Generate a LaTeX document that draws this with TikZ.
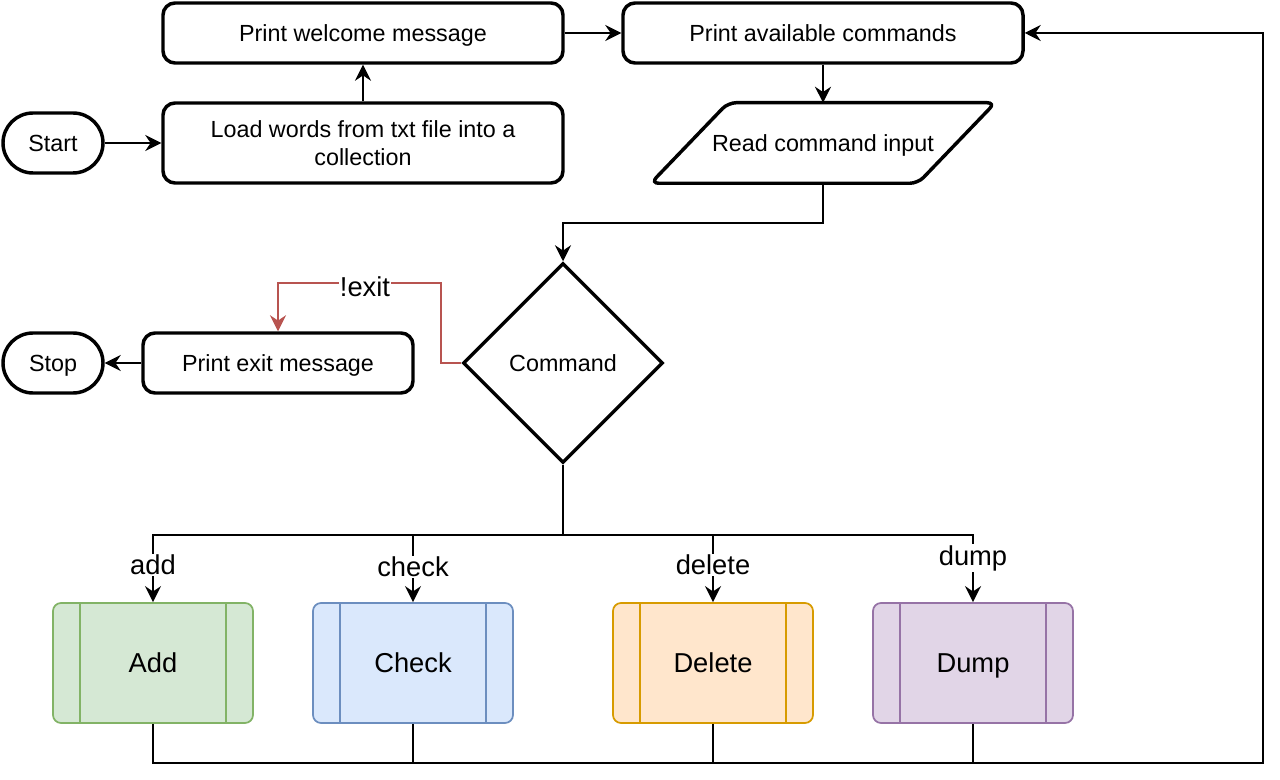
\documentclass[tikz,border=0pt]{standalone}
\usepackage{fontspec}
\setmainfont{Liberation Sans}
\usetikzlibrary{arrows.meta,shapes.geometric}

\definecolor{fillg}{HTML}{D5E8D4}\definecolor{lineg}{HTML}{82B366}
\definecolor{fillb}{HTML}{DAE8FC}\definecolor{lineb}{HTML}{6C8EBF}
\definecolor{fillo}{HTML}{FFE6CC}\definecolor{lineo}{HTML}{D79B00}
\definecolor{fillp}{HTML}{E1D5E7}\definecolor{linep}{HTML}{9673A6}
\definecolor{rdeca}{HTML}{B85450}

\tikzset{
	okvir/.style={draw, line width=2.6pt, rounded corners=9pt, minimum width=300pt, minimum height=45pt, align=center, font=\fontsize{17.5}{21}\selectfont},
	vrstica/.style={text height=#1, text depth=0pt},
	vrstica/.default=12.6pt,
	term/.style={okvir, vrstica, rounded corners=22.5pt, minimum width=75pt},
	odl/.style={diamond, draw, line width=2.6pt, minimum size=150pt, inner sep=0pt, vrstica, font=\fontsize{17.5}{21}\selectfont},
	proc/.style={draw=line#1, fill=fill#1, line width=1.3pt, rounded corners=6pt, minimum width=150pt, minimum height=90pt, vrstica=14.8pt, font=\fontsize{20.5}{24}\selectfont},
	pov/.style={line width=1.5pt, -{Stealth[length=12pt,width=12pt,inset=4pt]}},
	oznaka/.style={fill=white, inner sep=1pt, font=\fontsize{20.5}{24}\selectfont}
}

\begin{document}
\begin{tikzpicture}[x=0.75pt,y=-0.75pt]
\useasboundingbox (0,0) rectangle (1280,780);

\node[term] (s) at (53,143) {Start};
\node[okvir, minimum height=60pt] (ld) at (363,143) {Load words from txt file into a\\collection};
\node[okvir, vrstica] (pw) at (363,33) {Print welcome message};
\node[okvir, vrstica] (pc) at (823,33) {Print available commands};
\node[minimum width=258pt, minimum height=60pt, inner sep=0pt, vrstica, font=\fontsize{17.5}{21}\selectfont] (rd) at (823,143) {Read command input};
\draw[line width=2.6pt, rounded corners=6pt] (rd.north) -- (rd.north east) -- ([xshift=-58pt]rd.south east) -- (rd.south west) -- ([xshift=58pt]rd.north west) -- cycle;
\node[odl] (cmd) at (563,363) {Command};
\node[okvir, vrstica, minimum width=202.5pt] (pe) at (278,363) {Print exit message};
\node[term] (st) at (53,363) {Stop};

\foreach \n/\t/\x/\col in {add/Add/153/g,chk/Check/413/b,del/Delete/713/o,dmp/Dump/973/p}{
	\node[proc=\col] (\n) at (\x,663) {\t};
	\draw[line\col, line width=1.3pt]
	([xshift=21pt]\n.north west) -- ([xshift=21pt]\n.south west)
	([xshift=-21pt]\n.north east) -- ([xshift=-21pt]\n.south east);
}

\draw[pov] (s) -- (ld);
\draw[pov] (ld) -- (pw);
\draw[pov] (pw) -- (pc);
\draw[pov] (pc) -- (rd);
\draw[pov] (rd.south) -- ++(0,40) -| (cmd.north);
\draw[pov, rdeca] (cmd.west) -- ++(-20,0) -- ++(0,-80) -| (pe.north);
\draw[pov] (pe) -- (st);

% razvejitev ukazov
\draw[line width=1.5pt] (cmd.south) -- ++(0,70) coordinate (r);
\foreach \n in {add,chk,del,dmp}
	\draw[pov] (r) -| (\n.north);

% nazaj na izpis ukazov
\coordinate (ob) at (1263,763);
\draw[pov] (add.south) |- (ob) |- (pc.east);
\foreach \n in {chk,del,dmp}
	\draw[line width=1.5pt] (\n.south) -- ++(0,40);

\node[oznaka] (lx) at (365,287) {!exit};
\node[oznaka] (la) at (153,565) {add};
\node[oznaka] (lc) at (413,567) {check};
\node[oznaka] (ll) at (713,565) {delete};
\node[oznaka] (lm) at (973,558) {dump};
\end{tikzpicture}
\end{document}
